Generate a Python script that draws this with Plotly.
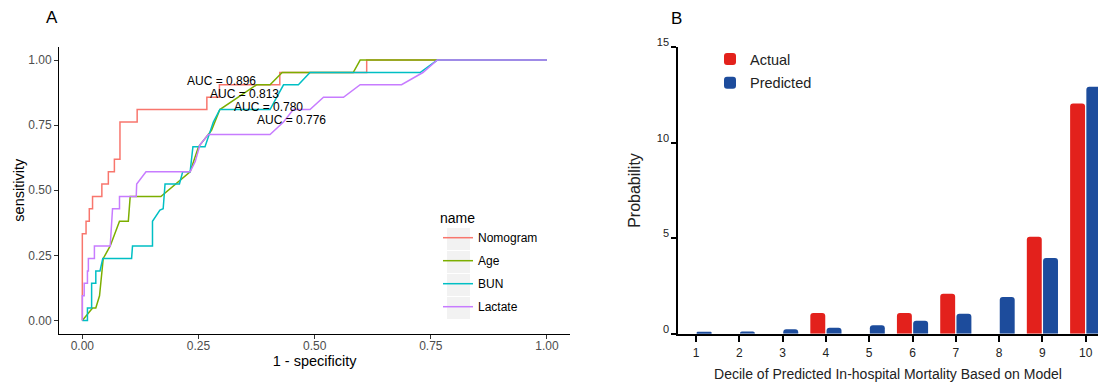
import plotly.graph_objects as go

# ---------------- Panel A: ROC curves ----------------
series_names = ["Nomogram", "Age", "BUN", "Lactate"]
series_colors = ["#F8766D", "#7CAE00", "#00BFC4", "#C77CFF"]

nomogram_fpr = [0, 0, 0.008, 0.008, 0.015, 0.015, 0.022, 0.022, 0.042, 0.042, 0.056, 0.056,
                0.069, 0.069, 0.081, 0.081, 0.118, 0.118, 0.268, 0.268, 0.295, 0.295,
                0.425, 0.425, 0.612, 0.612, 1.0]
nomogram_tpr = [0, 0.333, 0.333, 0.381, 0.381, 0.429, 0.429, 0.476, 0.476, 0.524, 0.524, 0.571,
                0.571, 0.619, 0.619, 0.762, 0.762, 0.810, 0.810, 0.857, 0.857, 0.905,
                0.905, 0.952, 0.952, 1.0, 1.0]

age_fpr = [0, 0.022, 0.029, 0.037, 0.045, 0.060, 0.080, 0.099, 0.103, 0.169, 0.232, 0.250,
           0.278, 0.296, 0.375, 0.404, 0.430, 0.583, 0.598, 1.0]
age_tpr = [0, 0.048, 0.048, 0.095, 0.238, 0.286, 0.381, 0.381, 0.476, 0.476, 0.571, 0.667,
           0.730, 0.810, 0.905, 0.905, 0.952, 0.952, 1.0, 1.0]

bun_fpr = [0, 0.011, 0.011, 0.020, 0.020, 0.029, 0.029, 0.038, 0.044, 0.106,
           0.108, 0.151, 0.151, 0.167, 0.174, 0.178, 0.209, 0.216, 0.232, 0.238,
           0.264, 0.275, 0.282, 0.296, 0.404, 0.433, 0.465, 0.490, 0.727, 0.764, 1.0]
bun_tpr = [0, 0, 0.048, 0.048, 0.143, 0.143, 0.190, 0.190, 0.238, 0.238,
           0.286, 0.286, 0.381, 0.424, 0.429, 0.524, 0.524, 0.571, 0.571, 0.667,
           0.667, 0.730, 0.762, 0.810, 0.810, 0.905, 0.905, 0.952, 0.952, 1.0, 1.0]

lactate_fpr = [0, 0, 0.004, 0.004, 0.011, 0.011, 0.013, 0.013, 0.026, 0.026,
               0.060, 0.065, 0.080, 0.080, 0.116, 0.117, 0.137, 0.232, 0.243, 0.253,
               0.271, 0.404, 0.433, 0.454, 0.490, 0.519, 0.562, 0.598, 0.687, 0.733,
               0.764, 1.0]
lactate_tpr = [0, 0.095, 0.095, 0.143, 0.143, 0.190, 0.190, 0.238, 0.238, 0.286,
               0.286, 0.429, 0.429, 0.476, 0.476, 0.524, 0.571, 0.571, 0.610, 0.674,
               0.714, 0.714, 0.762, 0.810, 0.810, 0.857, 0.857, 0.905, 0.905, 0.952,
               1.0, 1.0]

auc_values = [0.896, 0.813, 0.780, 0.776]
auc_label_x = [0.30, 0.35, 0.40, 0.45]
auc_label_y = [0.92, 0.87, 0.82, 0.77]

roc_ticks = [0.0, 0.25, 0.5, 0.75, 1.0]
roc_ticktext = ["0.00", "0.25", "0.50", "0.75", "1.00"]

# ---------------- Panel B: calibration bars ----------------
deciles = [1, 2, 3, 4, 5, 6, 7, 8, 9, 10]
actual = [0, 0, 0, 1.08, 0, 1.08, 2.09, 0, 5.08, 12.06]
predicted = [0.10, 0.12, 0.23, 0.31, 0.44, 0.68, 1.05, 1.92, 3.96, 12.93]
bar_names = ["Actual", "Predicted"]
bar_colors = ["#E3211C", "#1D4C9C"]
prob_ticks = [0, 5, 10, 15]

W, H = 1098, 382
FONT = "Liberation Sans, Arial, sans-serif"

fig = go.Figure()

roc_data = [(nomogram_fpr, nomogram_tpr), (age_fpr, age_tpr), (bun_fpr, bun_tpr),
            (lactate_fpr, lactate_tpr)]
for name, color, (fx, ty) in zip(series_names, series_colors, roc_data):
    fig.add_trace(go.Scatter(
        x=fx, y=ty, mode="lines", name=name, legendgroup=name,
        line=dict(color=color, width=1.5), xaxis="x", yaxis="y", legend="legend"))

for name, color, vals in zip(bar_names, bar_colors, [actual, predicted]):
    fig.add_trace(go.Bar(
        x=deciles, y=vals, name=name, legendgroup=name,
        marker=dict(color=color, line=dict(width=0)),
        xaxis="x2", yaxis="y2", legend="legend2"))

annotations = []
for v, ax_, ay_ in zip(auc_values, auc_label_x, auc_label_y):
    annotations.append(dict(x=ax_, y=ay_, xref="x", yref="y", text=f"AUC = {v:.3f}",
                            showarrow=False, font=dict(size=12, color="black", family=FONT)))
annotations.append(dict(x=52 / W, y=1 - 18 / H, xref="paper", yref="paper", text="A",
                        xanchor="center", yanchor="middle",
                        showarrow=False, font=dict(size=17, color="black", family=FONT)))
annotations.append(dict(x=676 / W, y=1 - 19 / H, xref="paper", yref="paper", text="B",
                        xanchor="center", yanchor="middle",
                        showarrow=False, font=dict(size=17, color="black", family=FONT)))

# grey key backgrounds for the ggplot-like legend
shapes = []
for rc in [239, 262, 285, 308]:
    shapes.append(dict(type="rect", xref="paper", yref="paper",
                       x0=447 / W, x1=470 / W, y0=1 - (rc + 11) / H, y1=1 - (rc - 11) / H,
                       fillcolor="#F2F2F2", line=dict(width=0), layer="below"))

fig.update_layout(
    width=W, height=H,
    margin=dict(l=0, r=0, t=0, b=0, autoexpand=False),
    paper_bgcolor="white", plot_bgcolor="white",
    font=dict(family=FONT, color="black"),
    barmode="group", bargap=0.25, bargroupgap=0.08, barcornerradius=3,
    annotations=annotations, shapes=shapes,
    xaxis=dict(domain=[59.1 / W, 570.2 / W], range=[-0.05, 1.05], automargin=False,
               tickvals=roc_ticks, ticktext=roc_ticktext,
               showgrid=False, zeroline=False, showline=True, linecolor="black", linewidth=1.2,
               ticks="outside", ticklen=4, tickcolor="#333333", tickwidth=1,
               ticklabelstandoff=-3,
               tickfont=dict(size=12, color="#4D4D4D"),
               title=dict(text="1 - specificity", font=dict(size=14.5, color="black"), standoff=0)),
    yaxis=dict(domain=[(H - 333.5) / H, (H - 47) / H], range=[-0.05, 1.05], automargin=False,
               tickvals=roc_ticks, ticktext=roc_ticktext,
               showgrid=False, zeroline=False, showline=True, linecolor="black", linewidth=1.2,
               ticks="outside", ticklen=4, tickcolor="#333333", tickwidth=1,
               tickfont=dict(size=12, color="#4D4D4D"),
               title=dict(text="sensitivity", font=dict(size=14.5, color="black"), standoff=0)),
    xaxis2=dict(domain=[678 / W, 1.0], range=[0.584, 10.284], anchor="y2", automargin=False,
                tickvals=deciles, showgrid=False, zeroline=False,
                showline=True, linecolor="black", linewidth=1.5,
                ticks="outside", ticklen=7, tickcolor="black", tickwidth=1.5,
                tickfont=dict(size=12, color="#222222"),
                title=dict(text="Decile of Predicted In-hospital Mortality Based on Model",
                           font=dict(size=14, color="#222222"), standoff=10)),
    yaxis2=dict(domain=[(H - 333.7) / H, (H - 47.3) / H], range=[0, 15], anchor="x2",
                automargin=False,
                tickvals=prob_ticks, showgrid=False, zeroline=False,
                showline=True, linecolor="black", linewidth=1.5,
                ticks="outside", ticklen=5, tickcolor="black", tickwidth=1.5,
                ticklabelshift=-5,
                tickfont=dict(size=11, color="#222222"),
                title=dict(text="Probability", font=dict(size=16, color="#222222"), standoff=12)),
    legend=dict(x=438 / W, y=1 - 205 / H, xanchor="left", yanchor="top",
                bgcolor="rgba(0,0,0,0)", tracegroupgap=4,
                title=dict(text="name", font=dict(size=14, color="black")),
                font=dict(size=12, color="black"), itemwidth=30),
    legend2=dict(x=710 / W, y=1 - 43 / H, xanchor="left", yanchor="top",
                 bgcolor="rgba(0,0,0,0)", tracegroupgap=2,
                 font=dict(size=14.5, color="#222222")),
)

fig.write_html("out.html",
               config={"displayModeBar": False},
               post_script="document.body.style.margin='0';document.body.style.padding='0';")
